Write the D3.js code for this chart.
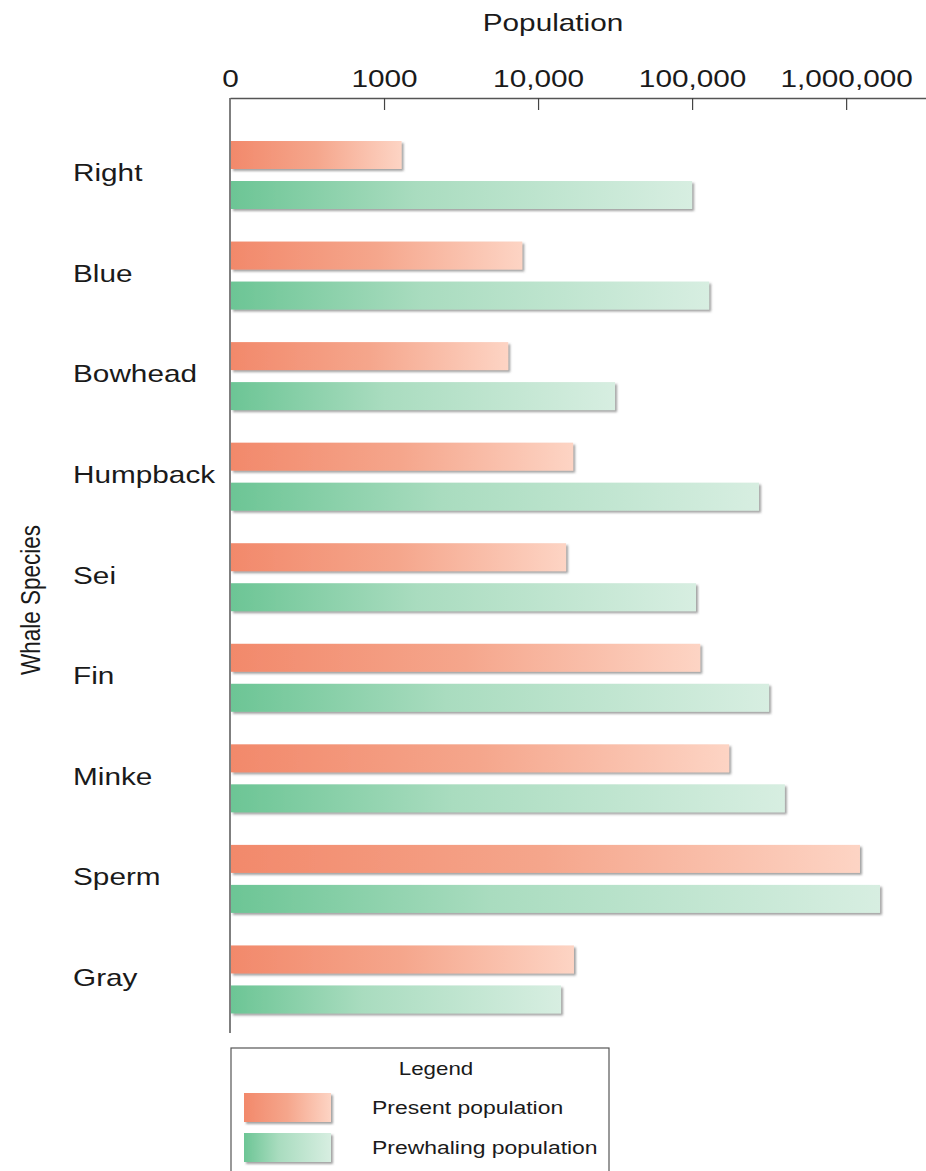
<!DOCTYPE html>
<html>
<head>
<meta charset="utf-8">
<script src="https://cdn.jsdelivr.net/npm/d3@7"></script>
<style>
  body { margin: 0; background: #fff; }
  text { font-family: "Liberation Sans", Arial, Helvetica, sans-serif; fill: #1a1a1a; }
</style>
</head>
<body>
<div id="chart"></div>
<script>
// whale populations
var species = ["Right", "Blue", "Bowhead", "Humpback", "Sei", "Fin", "Minke", "Sperm", "Gray"];
var presentPop = [1300, 7900, 6400, 16900, 15200, 113000, 174000, 1230000, 17100];
var prewhalingPop = [100000, 129000, 31600, 272000, 106000, 316000, 400000, 1660000, 14100];
var tickValues = [100, 1000, 10000, 100000, 1000000];
var tickLabels = ["0", "1000", "10,000", "100,000", "1,000,000"];
var seriesNames = ["Present population", "Prewhaling population"];

var W = 926, H = 1171;
var SX = 1.24; // the original type is drawn wide

var svg = d3.select("#chart").append("svg")
  .attr("width", W).attr("height", H);

var defs = svg.append("defs");
var f = defs.append("filter").attr("id", "shadow")
  .attr("x", "-5%").attr("y", "-20%").attr("width", "115%").attr("height", "160%");
f.append("feDropShadow").attr("dx", 2).attr("dy", 2).attr("stdDeviation", 1.3)
  .attr("flood-color", "#555").attr("flood-opacity", 0.55);

function grad(id, stops) {
  var g = defs.append("linearGradient").attr("id", id)
    .attr("x1", 0).attr("x2", 1).attr("y1", 0).attr("y2", 0);
  stops.forEach(function (s) {
    g.append("stop").attr("offset", s[0]).attr("stop-color", s[1]);
  });
}
grad("gPresent", [[0, "#f2896b"], [0.5, "#f5a68c"], [1, "#fdd4c4"]]);
grad("gPre", [[0, "#6cc595"], [0.4, "#a9dcbf"], [1, "#d7eee1"]]);

var x = d3.scaleLog().domain([100, 3.3e6]).range([230, 926]);
var y = d3.scaleBand().domain(species).range([125, 1030]);
var inner = d3.scaleBand().domain(["present", "pre"]).range([16, 84]).paddingInner(0.3);

// top axis
var axis = d3.axisTop(x)
  .tickValues(tickValues)
  .tickFormat(function (d, i) { return tickLabels[i]; })
  .tickSizeInner(-12).tickSizeOuter(0).tickPadding(11);

var ax = svg.append("g").attr("transform", "translate(0,98)").call(axis);
ax.select(".domain").attr("stroke", "#555").attr("stroke-width", 1.5);
ax.selectAll(".tick line").attr("stroke", "#444").attr("stroke-width", 1.2);
ax.selectAll(".tick").filter(function (d) { return d === 100; }).select("line").remove();
ax.selectAll(".tick text")
  .attr("font-size", 24).attr("fill", "#1a1a1a")
  .attr("font-family", "Liberation Sans, Arial, sans-serif")
  .attr("transform", "scale(" + SX + ",1)");

// vertical axis line
svg.append("line")
  .attr("x1", 230).attr("x2", 230).attr("y1", 98).attr("y2", 1033)
  .attr("stroke", "#555").attr("stroke-width", 1.5);

function wideText(parent, tx, ty, str, size, anchor, rot) {
  var g = parent.append("g")
    .attr("transform", "translate(" + tx + "," + ty + ") scale(" + SX + ",1)" + (rot ? " rotate(" + rot + ")" : ""));
  return g.append("text").attr("font-size", size)
    .attr("text-anchor", anchor || "start").text(str);
}

wideText(svg, 553, 31, "Population", 24, "middle");
wideText(svg, 40, 600, "Whale Species", 22.5, "middle", -90);

// bars
var groups = svg.selectAll("g.species").data(species).enter().append("g")
  .attr("class", "species")
  .attr("transform", function (d) { return "translate(0," + y(d) + ")"; });

groups.each(function (d, i) {
  var g = d3.select(this);
  g.append("rect")
    .attr("x", 231).attr("y", inner("present"))
    .attr("width", x(presentPop[i]) - 231).attr("height", inner.bandwidth())
    .attr("fill", "url(#gPresent)").attr("filter", "url(#shadow)");
  g.append("rect")
    .attr("x", 231).attr("y", inner("pre"))
    .attr("width", x(prewhalingPop[i]) - 231).attr("height", inner.bandwidth())
    .attr("fill", "url(#gPre)").attr("filter", "url(#shadow)");
  wideText(g, 73, y.bandwidth() / 2 + 6, d, 24, "start");
});

// legend
var lg = svg.append("g");
lg.append("rect").attr("x", 231).attr("y", 1048).attr("width", 378).attr("height", 140)
  .attr("fill", "#fff").attr("stroke", "#555").attr("stroke-width", 1.2);
wideText(lg, 436, 1075, "Legend", 18, "middle");
var swatchFill = ["url(#gPresent)", "url(#gPre)"];
seriesNames.forEach(function (name, i) {
  var yy = 1093 + i * 40;
  lg.append("rect").attr("x", 244).attr("y", yy).attr("width", 87).attr("height", 29)
    .attr("fill", swatchFill[i]).attr("filter", "url(#shadow)");
  wideText(lg, 372, yy + 21, name, 18.5, "start");
});
</script>
</body>
</html>
